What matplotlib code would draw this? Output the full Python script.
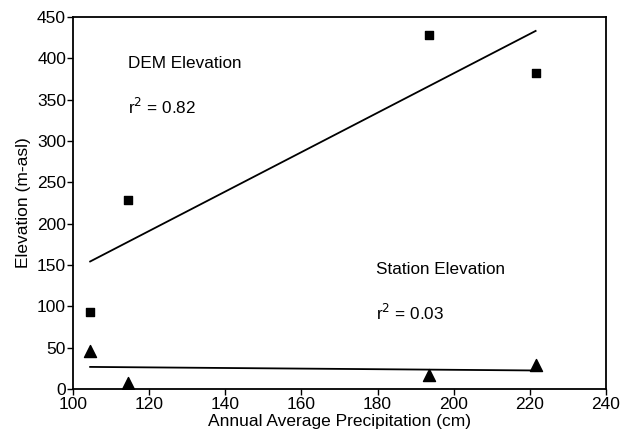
import numpy as np
import matplotlib
matplotlib.use("Agg")
import matplotlib.pyplot as plt

plt.rcParams['font.family'] = ['Liberation Sans', 'DejaVu Sans']

precip = [104.5, 114.5, 193.5, 221.5]
dem_elev = [93, 229, 428, 382]
station_elev = [46, 7, 17, 29]
xticks = [100, 120, 140, 160, 180, 200, 220, 240]
yticks = [0, 50, 100, 150, 200, 250, 300, 350, 400, 450]

fig = plt.figure(figsize=(6.3, 4.32), dpi=100)
ax = fig.add_axes([0.1159, 0.0995, 0.962 - 0.1159, 0.9606 - 0.0995])

ax.scatter(precip, dem_elev, marker='s', s=28, color='black', zorder=3)
ax.scatter(precip, station_elev, marker='^', s=75, color='black', zorder=3)

xs = np.array([min(precip), max(precip)])
for ys in (dem_elev, station_elev):
    m, b = np.polyfit(precip, ys, 1)
    ax.plot(xs, m * xs + b, color='black', lw=1.3)

fs = 12.3
ax.text(114.5, 394, 'DEM Elevation', fontsize=fs, va='center', ha='left')
ax.text(114.5, 341, r'r$^2$ = 0.82', fontsize=fs, va='center', ha='left')
ax.text(179.5, 145, 'Station Elevation', fontsize=fs, va='center', ha='left')
ax.text(179.5, 92, r'r$^2$ = 0.03', fontsize=fs, va='center', ha='left')

ax.set_xlim(100, 240)
ax.set_ylim(0, 450)
ax.set_xticks(xticks)
ax.set_yticks(yticks)
ax.tick_params(direction='out', length=4, width=1, labelsize=12.5, pad=1)
ax.tick_params(axis='x', pad=2)
for s in ax.spines.values():
    s.set_linewidth(1.3)
ax.set_xlabel('Annual Average Precipitation (cm)', fontsize=12.5, labelpad=1)
ax.set_ylabel('Elevation (m-asl)', fontsize=12.5, labelpad=4)

fig.savefig('out.png', dpi=100)
